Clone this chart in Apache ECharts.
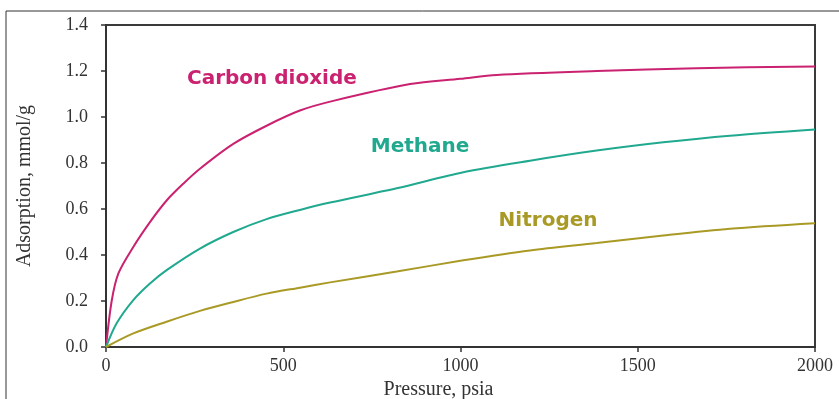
<!DOCTYPE html>
<html>
<head>
<meta charset="utf-8">
<script src="https://cdn.jsdelivr.net/npm/echarts@6/dist/echarts.min.js"></script>
<style>
  html, body { margin: 0; padding: 0; background: #fff; }
  #chart { width: 839px; height: 399px; }
</style>
</head>
<body>
<div id="chart"></div>
<script>
// Adsorption isotherms: pressure (psia) vs adsorbed amount (mmol/g)
const co2Pressure = [0, 16, 35, 77, 124, 171, 218, 265, 359, 453, 547, 641, 858, 1000, 1102, 1384, 1666, 2000];
const co2Adsorption = [0, 0.20, 0.32, 0.435, 0.543, 0.637, 0.71, 0.775, 0.883, 0.962, 1.028, 1.07, 1.143, 1.166, 1.183, 1.20, 1.212, 1.22];

const methanePressure = [0, 30, 77, 124, 171, 265, 359, 453, 547, 632, 820, 1008, 1196, 1384, 1572, 1760, 2000];
const methaneAdsorption = [0, 0.103, 0.204, 0.276, 0.334, 0.428, 0.50, 0.556, 0.596, 0.628, 0.69, 0.76, 0.81, 0.854, 0.89, 0.919, 0.946];

const nitrogenPressure = [0, 77, 171, 265, 359, 453, 547, 632, 820, 1008, 1196, 1384, 1572, 1760, 2000];
const nitrogenAdsorption = [0, 0.059, 0.11, 0.157, 0.196, 0.232, 0.258, 0.281, 0.328, 0.377, 0.42, 0.452, 0.485, 0.514, 0.538];

const xTicks = [0, 500, 1000, 1500, 2000];
const yTicks = [0.0, 0.2, 0.4, 0.6, 0.8, 1.0, 1.2, 1.4];

const seriesNames = ['Carbon dioxide', 'Methane', 'Nitrogen'];
const seriesColors = ['#CA2170', '#20A98F', '#A99A26'];
// Where each curve's name is written, in data units [pressure, adsorption]
const labelAnchors = [[468, 1.166], [886, 0.871], [1247, 0.55]];

const pairs = (xs, ys) => xs.map((x, i) => [x, ys[i]]);
const curves = [
  pairs(co2Pressure, co2Adsorption),
  pairs(methanePressure, methaneAdsorption),
  pairs(nitrogenPressure, nitrogenAdsorption)
];

const serif = '"Liberation Serif", "DejaVu Serif", serif';
const axisColor = '#333';

const chart = echarts.init(document.getElementById('chart'), null, { renderer: 'canvas' });

chart.setOption({
  animation: false,
  backgroundColor: '#fff',
  grid: {
    left: 106, right: 24, top: 25, bottom: 52,
    outerBoundsMode: 'none',
    containLabel: false,
    show: true, borderColor: '#3a3a3a', borderWidth: 2, backgroundColor: 'transparent'
  },
  graphic: [
    // outer frame around the figure
    { type: 'line', shape: { x1: 6, y1: 11, x2: 839, y2: 11 }, style: { stroke: '#333', lineWidth: 1 } },
    { type: 'line', shape: { x1: 6, y1: 11, x2: 6, y2: 399 }, style: { stroke: '#333', lineWidth: 1 } }
  ],
  xAxis: {
    type: 'value',
    min: xTicks[0], max: xTicks[xTicks.length - 1], interval: 500,
    name: 'Pressure, psia',
    nameLocation: 'middle',
    nameGap: 22,
    nameTextStyle: { fontFamily: serif, fontSize: 20, color: '#333', padding: [0, 44, 0, 0] },
    axisLine: { show: true, lineStyle: { color: axisColor, width: 2 } },
    axisTick: { show: true, inside: false, length: 5, lineStyle: { color: axisColor, width: 1.5 } },
    axisLabel: { fontFamily: serif, fontSize: 18, color: '#333', margin: 10,
                 formatter: v => String(v) },
    splitLine: { show: false }
  },
  yAxis: {
    type: 'value',
    min: yTicks[0], max: yTicks[yTicks.length - 1], interval: 0.2,
    name: 'Adsorption, mmol/g',
    nameLocation: 'middle',
    nameGap: 71,
    nameTextStyle: { fontFamily: serif, fontSize: 20, color: '#333' },
    axisLine: { show: true, lineStyle: { color: axisColor, width: 2 } },
    axisTick: { show: true, inside: false, length: 5, lineStyle: { color: axisColor, width: 1.5 } },
    axisLabel: { fontFamily: serif, fontSize: 18, color: '#333', margin: 18,
                 formatter: v => v.toFixed(1) },
    splitLine: { show: false }
  },
  series: curves.map((data, i) => ({
    name: seriesNames[i],
    type: 'line',
    data: data,
    smooth: 0.3,
    showSymbol: false,
    lineStyle: { color: seriesColors[i], width: 2 },
    markPoint: {
      symbol: 'circle',
      symbolSize: 2,
      itemStyle: { color: 'rgba(0,0,0,0)' },
      silent: true,
      data: [{ coord: labelAnchors[i], value: 0 }],
      label: {
        show: true, position: 'inside',
        formatter: seriesNames[i],
        fontFamily: '"DejaVu Sans", Verdana, sans-serif',
        fontWeight: 'bold', fontSize: 20, color: seriesColors[i]
      }
    }
  }))
});
</script>
</body>
</html>
